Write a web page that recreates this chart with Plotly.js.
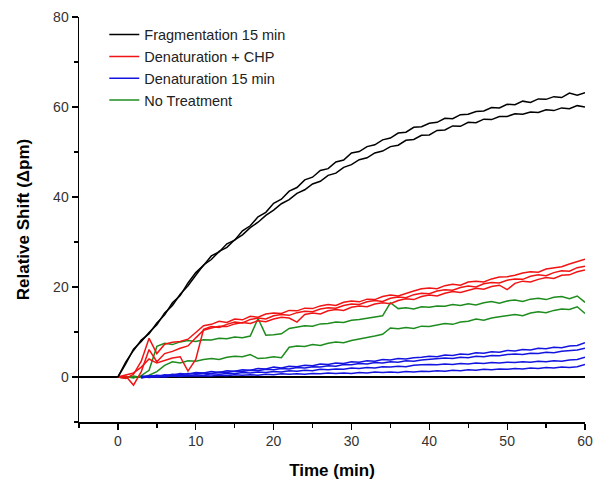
<!DOCTYPE html>
<html>
<head>
<meta charset="utf-8">
<script src="https://cdn.plot.ly/plotly-3.0.1.min.js"></script>
<style>
  html, body { margin: 0; padding: 0; background: #fff; }
  #chart { width: 601px; height: 492px; }
</style>
</head>
<body>
<div id="chart"></div>
<script>
// time in minutes, one reading per minute
const time = [0,1,2,3,4,5,6,7,8,9,10,11,12,13,14,15,16,17,18,19,20,21,22,23,24,25,26,27,28,29,30,
  31,32,33,34,35,36,37,38,39,40,41,42,43,44,45,46,47,48,49,50,51,52,53,54,55,56,57,58,59,60];

// Fragmentation 15 min (2 runs)
const frag1 = [0,3.3,5.9,8.2,9.6,12.0,13.8,16.5,18.1,20.9,23.2,24.8,26.9,27.8,29.6,30.4,32.5,33.6,35.6,36.6,38.6,
  39.5,41.3,42.1,43.8,44.4,45.9,46.3,47.8,48.2,49.8,50.1,51.2,51.6,52.7,53.1,54.2,54.4,55.5,55.6,56.4,
  56.6,57.5,57.4,58.3,58.4,59.0,59.1,59.9,59.8,60.6,60.5,61.3,61.0,61.8,61.7,62.3,62.1,63.1,62.6,63.2];
const frag2 = [0,2.9,6.2,7.9,9.9,11.6,14.2,15.9,18.4,20.3,22.6,24.9,26.1,27.9,28.8,30.5,31.6,33.2,34.4,35.9,37.1,
  38.5,39.4,40.8,41.6,42.9,43.5,44.8,45.3,46.6,47.2,48.3,48.7,49.8,50.2,51.2,51.5,52.6,52.8,53.7,53.8,
  54.8,54.9,55.8,55.7,56.6,56.5,57.3,57.2,57.9,57.9,58.5,58.4,58.9,58.8,59.4,59.2,59.8,59.6,60.3,60.0];

// Denaturation + CHP (3 runs)
const chp1 = [0,-0.3,0.6,3.5,8.6,5.2,7.3,7.7,7.9,8.4,9.9,11.4,11.7,12.4,12.1,12.9,12.7,13.5,13.3,14.0,14.2,
  14.1,14.8,14.7,15.3,15.2,15.8,16.1,15.9,16.6,16.9,16.7,17.3,17.2,17.9,18.2,18.0,18.6,19.1,19.6,19.8,
  19.6,20.3,20.6,20.4,21.1,21.3,21.1,21.8,22.2,22.3,22.6,23.1,23.4,23.3,24.0,24.3,24.5,25.1,25.7,26.2];
const chp2 = [0,0.2,-1.8,1.2,6.1,3.4,5.2,5.7,6.4,6.9,8.7,10.4,10.9,11.3,11.2,11.8,12.1,11.9,12.5,12.3,12.9,
  13.3,13.1,12.2,13.9,14.2,14.0,14.7,15.0,14.8,15.5,15.8,15.6,16.2,16.5,16.3,17.0,17.4,17.2,17.9,18.2,
  18.0,18.6,19.0,18.8,19.3,19.7,19.5,20.1,20.4,19.4,20.8,21.3,21.1,21.7,22.1,21.9,22.6,22.7,23.4,23.8];
const chp3 = [0,0.4,0.9,2.2,4.0,3.1,3.6,4.2,4.5,1.3,3.9,10.6,11.2,11.0,11.7,12.2,12.0,12.8,13.1,12.9,13.6,
  13.9,13.7,14.3,14.6,14.5,15.1,15.4,15.3,15.9,16.2,16.1,16.7,17.0,16.8,17.5,17.8,17.6,18.3,18.6,18.5,
  19.1,19.4,19.3,19.9,20.2,20.0,20.7,21.0,20.9,21.5,21.8,21.7,22.4,22.7,22.5,23.2,23.6,23.5,24.3,24.6];

// Denaturation 15 min (4 runs, start at ~3 min)
const den1 = [null,null,null,-0.2,0.3,0.1,0.5,0.4,0.8,0.6,1.0,0.9,1.2,1.0,1.4,1.3,1.6,1.5,1.9,1.8,2.2,
  2.0,2.4,2.3,2.6,2.5,2.9,2.8,3.1,3.0,3.4,3.3,3.6,3.5,3.9,3.8,4.1,4.0,4.3,4.4,4.6,
  4.5,4.9,4.8,5.1,5.0,5.4,5.3,5.6,5.5,5.9,5.8,6.1,6.0,6.4,6.3,6.6,6.5,6.9,7.0,7.6];
const den2 = [null,null,null,0.2,0.1,0.4,0.2,0.6,0.5,0.8,0.7,0.9,0.8,1.1,1.0,1.3,1.2,1.5,1.4,1.7,1.6,
  1.9,1.8,2.1,2.0,2.3,2.2,2.5,2.4,2.8,2.7,3.0,2.9,3.2,3.1,3.4,3.3,3.6,3.5,3.8,3.9,
  4.0,4.2,4.1,4.4,4.3,4.6,4.5,4.8,4.7,5.0,5.1,5.0,5.3,5.2,5.5,5.4,5.7,5.8,6.0,6.4];
const den3 = [null,null,null,-0.2,0.1,0.0,0.3,0.2,0.4,0.3,0.5,0.4,0.7,0.6,0.8,0.7,1.0,0.9,1.1,1.0,1.2,
  1.1,1.4,1.3,1.5,1.4,1.7,1.6,1.8,1.7,2.0,1.9,2.1,2.0,2.3,2.2,2.4,2.3,2.6,2.7,2.8,
  2.7,2.9,2.8,3.0,2.9,3.1,3.0,3.2,3.1,3.3,3.2,3.4,3.3,3.5,3.4,3.6,3.5,3.8,3.9,4.4];
const den4 = [null,null,null,0.1,-0.1,0.1,0.0,0.2,0.1,0.3,0.2,0.3,0.2,0.4,0.3,0.5,0.4,0.5,0.4,0.6,0.5,
  0.7,0.6,0.7,0.6,0.8,0.7,0.9,0.8,0.9,0.8,1.0,0.9,1.1,1.0,1.1,1.0,1.2,1.1,1.3,1.2,
  1.4,1.3,1.5,1.4,1.6,1.5,1.7,1.6,1.8,1.7,1.9,1.8,2.0,1.9,2.1,2.0,2.2,2.1,2.3,2.8];

// No Treatment (2 runs)
const none1 = [0,0.1,-0.2,0.3,1.5,6.8,7.5,7.2,7.8,8.1,7.9,8.3,8.2,8.6,8.5,8.9,8.7,9.1,13.0,9.3,9.4,
  9.6,10.8,11.1,11.4,11.3,11.8,11.9,12.2,12.1,12.6,12.8,13.1,13.3,13.6,16.5,15.2,15.4,15.1,15.6,15.5,
  15.8,15.7,16.1,15.9,16.3,16.0,16.5,16.8,16.4,16.9,17.1,16.8,17.3,17.5,17.2,17.7,17.9,17.4,18.0,16.6];
const none2 = [0,-0.3,0.2,-0.1,0.4,1.2,2.6,3.4,3.1,3.6,3.5,3.9,4.1,3.9,4.4,4.6,4.5,5.0,4.1,4.2,4.5,
  4.3,6.6,6.9,6.8,7.2,7.0,7.5,7.8,7.6,8.1,8.4,8.7,9.1,9.5,10.9,10.7,11.0,10.8,11.3,11.2,
  11.6,11.9,11.7,12.2,12.4,12.9,12.6,13.1,13.4,13.7,13.9,13.6,14.2,14.5,14.3,14.8,15.1,15.0,15.6,14.1];

const groups = [
  { name: "Fragmentation 15 min", color: "#000000", runs: [frag1, frag2], rank: 1 },
  { name: "Denaturation + CHP", color: "#f01414", runs: [chp1, chp2, chp3], rank: 2 },
  { name: "Denaturation 15 min", color: "#1414e0", runs: [den1, den2, den3, den4], rank: 3 },
  { name: "No Treatment", color: "#1e8c1e", runs: [none1, none2], rank: 4 },
];

// draw order: greens, blues, reds, then black on top
const drawOrder = [3, 2, 1, 0];
const traces = [];
drawOrder.forEach((gi) => {
  const g = groups[gi];
  g.runs.forEach((y, i) => {
    traces.push({
      x: time,
      y: y,
      type: "scatter",
      mode: "lines",
      name: g.name,
      legendgroup: g.name,
      legendrank: g.rank,
      showlegend: i === 0,
      line: { color: g.color, width: 1.5 },
    });
  });
});

const font = "Liberation Sans, Arial, sans-serif";

Plotly.newPlot("chart", traces, {
  width: 601,
  height: 492,
  margin: { l: 79, r: 16, t: 17, b: 70 },
  paper_bgcolor: "#fff",
  plot_bgcolor: "#fff",
  showlegend: true,
  legend: {
    x: 0.05,
    y: 0.996,
    xanchor: "left",
    yanchor: "top",
    bgcolor: "rgba(0,0,0,0)",
    font: { family: font, size: 14.5, color: "#222" },
    tracegroupgap: 0,
  },
  xaxis: {
    range: [-5, 60],
    tick0: 0,
    dtick: 10,
    ticks: "outside",
    ticklen: 6,
    tickwidth: 1.3,
    tickcolor: "#000",
    minor: { dtick: 5, ticks: "outside", ticklen: 4, tickwidth: 1.3, tickcolor: "#000" },
    showgrid: false,
    zeroline: false,
    showline: true,
    linecolor: "#000",
    linewidth: 1.5,
    tickfont: { family: font, size: 14, color: "#333" },
    title: { text: "Time (min)", font: { family: font, size: 17, color: "#000", weight: "bold" }, standoff: 16 },
  },
  yaxis: {
    range: [-10, 80],
    tick0: 0,
    dtick: 20,
    ticks: "outside",
    ticklen: 6,
    tickwidth: 1.3,
    tickcolor: "#000",
    minor: { dtick: 10, ticks: "outside", ticklen: 4, tickwidth: 1.3, tickcolor: "#000" },
    showgrid: false,
    zeroline: true,
    zerolinecolor: "#000",
    zerolinewidth: 1.5,
    showline: true,
    linecolor: "#000",
    linewidth: 1.5,
    tickfont: { family: font, size: 14, color: "#333" },
    title: { text: "Relative Shift (Δpm)", font: { family: font, size: 17, color: "#000", weight: "bold" }, standoff: 19 },
  },
}, { displayModeBar: false, staticPlot: true });
</script>
</body>
</html>
